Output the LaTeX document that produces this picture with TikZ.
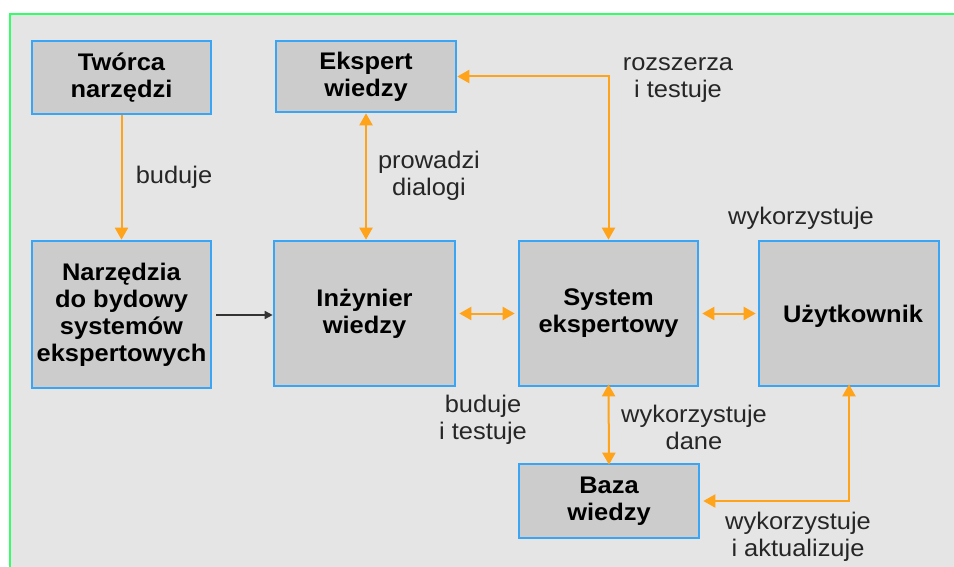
\documentclass[tikz,border=0pt]{standalone}
\usepackage{fontspec}
\setmainfont{Liberation Sans}[FakeStretch=1.06]
\usetikzlibrary{arrows.meta}
\definecolor{panelbg}{HTML}{E5E5E5}
\definecolor{panelgreen}{HTML}{33FF66}
\definecolor{boxgray}{HTML}{CCCCCC}
\definecolor{boxblue}{HTML}{3AA5F5}
\definecolor{flow}{HTML}{FFA31A}
\begin{document}
\begin{tikzpicture}[x=1pt,y=-1pt,
  boxfont/.style={font=\fontsize{24}{27}\selectfont\bfseries},
  box/.style={draw=boxblue, fill=boxgray, line width=2.6pt, align=center,
    inner sep=0pt, boxfont},
  boxtext/.style={align=center, inner sep=0pt, boxfont},
  lbl/.style={align=center, inner sep=0pt, text=black!85,
    font=\fontsize{24}{27}\selectfont},
  flowline/.style={draw=flow, line width=2pt},
  both/.style={flowline, {Triangle[length=12pt,width=13pt]}-{Triangle[length=12pt,width=13pt]}},
  one/.style={flowline, -{Triangle[length=12pt,width=13pt]}}]
\useasboundingbox (0,0) rectangle (954,567);
% panel
\fill[panelbg] (10,14) rectangle (954,567);
\draw[panelgreen, line width=1.5pt] (10,567) -- (10,14) -- (954,14);

% boxes
\node[box, minimum width=179pt, minimum height=73pt] (tworca) at (121.5,77.5) {Twórca\\narzędzi};
\node[box, minimum width=180pt, minimum height=71pt] (ekspert) at (366,76.5) {Ekspert\\wiedzy};
\node[box, minimum width=179pt, minimum height=147pt] (narz) at (121.5,314.5) {Narzędzia\\do bydowy\\systemów\\ekspertowych};
\node[box, minimum width=181pt, minimum height=145pt] (inz) at (364.5,313.5) {Inżynier\\wiedzy};
\node[box, minimum width=179pt, minimum height=145pt] (sys) at (608.5,313.5) {System\\ekspertowy};
\node[box, minimum width=180pt, minimum height=145pt] (uzyt) at (849,313.5) {};
\node[boxtext, anchor=base] (uzytname) at (853,322) {Użytkownik};
\node[box, minimum width=180pt, minimum height=74pt] (baza) at (609,501) {Baza\\wiedzy};

% connectors
\draw[one] (tworca) -- (narz);
\draw[both] (ekspert.south) -- (ekspert.south |- inz.north);
\draw[both] (sys.north) |- (ekspert.east);
\draw[black!80, line width=1.5pt, -{Triangle[length=8pt,width=8pt]}]
  ([xshift=4pt]narz.east |- 0,315) -- (inz.west |- 0,315);
\draw[both] ([xshift=3pt]inz.east) -- ([xshift=-3pt]sys.west);
\draw[both] ([xshift=3pt]sys.east) -- ([xshift=-2pt]uzyt.west);
\draw[both] ([yshift=3pt]sys.south) -- ([yshift=-2pt]baza.north);
\draw[both] ([yshift=3pt]uzyt.south) |- ([xshift=3pt]baza.east);

% labels
\node[lbl] (l1) at (174,177) {buduje};
\node[lbl] (l2) at (429,176) {prowadzi\\dialogi};
\node[lbl] (l3) at (678,80) {rozszerza\\i testuje};
\node[lbl] (l4) at (801,218) {wykorzystuje};
\node[lbl] (l5) at (483,420) {buduje\\i testuje};
\node[lbl] (l6) at (694,427) {wykorzystuje\\dane};
\node[lbl] (l7) at (798,537) {wykorzystuje\\i aktualizuje};
\end{tikzpicture}
\end{document}
